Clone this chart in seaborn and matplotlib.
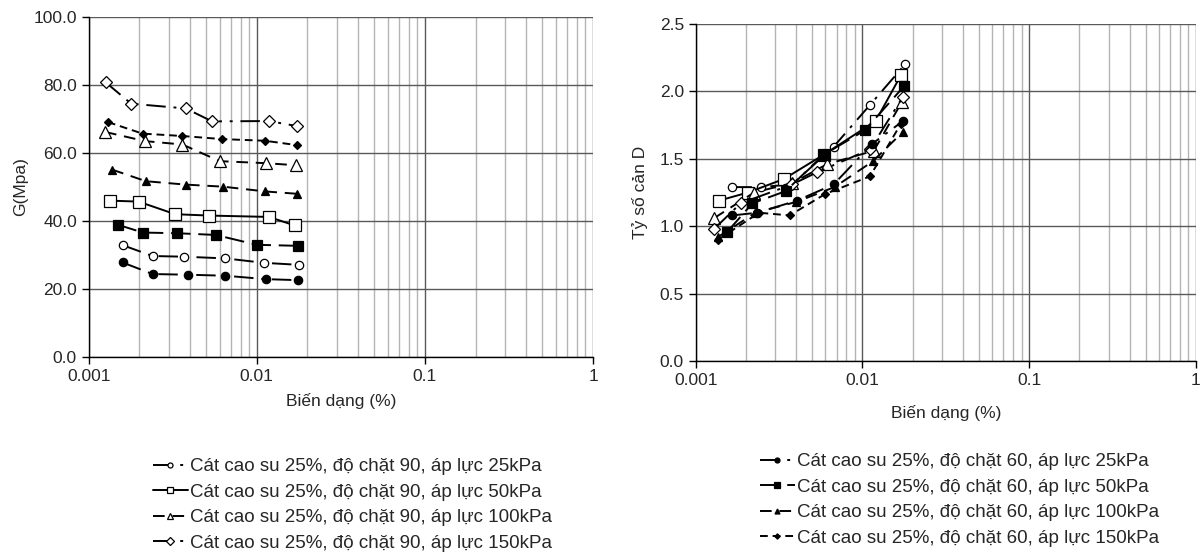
import numpy as np
import pandas as pd
import seaborn as sns
import matplotlib
matplotlib.use("Agg")
import matplotlib.pyplot as plt
from matplotlib.ticker import FixedLocator, FuncFormatter, NullFormatter, LogLocator

sns.set_style("white")
plt.rcParams['font.family'] = ['Liberation Sans', 'DejaVu Sans']

# ---------------- Data ----------------
series_labels = [
    "Cát cao su 25%, độ chặt 90, áp lực 25kPa",
    "Cát cao su 25%, độ chặt 90, áp lực 50kPa",
    "Cát cao su 25%, độ chặt 90, áp lực 100kPa",
    "Cát cao su 25%, độ chặt 90, áp lực 150kPa",
    "Cát cao su 25%, độ chặt 60, áp lực 25kPa",
    "Cát cao su 25%, độ chặt 60, áp lực 50kPa",
    "Cát cao su 25%, độ chặt 60, áp lực 100kPa",
    "Cát cao su 25%, độ chặt 60, áp lực 150kPa",
]

# Left chart: G (MPa) vs strain (%)
g_x_90_25 = [0.00159, 0.00240, 0.00369, 0.00651, 0.0110, 0.0179]
g_y_90_25 = [32.9, 29.7, 29.5, 29.0, 27.7, 27.1]
g_x_90_50 = [0.00133, 0.00198, 0.00327, 0.00518, 0.0118, 0.0168]
g_y_90_50 = [46.0, 45.7, 42.0, 41.6, 41.2, 38.7]
g_x_90_100 = [0.00125, 0.00216, 0.00361, 0.00602, 0.0114, 0.0170]
g_y_90_100 = [66.2, 63.5, 62.5, 57.6, 57.0, 56.4]
g_x_90_150 = [0.00126, 0.00179, 0.00378, 0.00542, 0.0118, 0.0174]
g_y_90_150 = [80.8, 74.5, 73.1, 69.3, 69.4, 67.9]
g_x_60_25 = [0.00159, 0.00240, 0.00390, 0.00651, 0.0113, 0.0176]
g_y_60_25 = [27.8, 24.4, 24.2, 23.9, 22.9, 22.6]
g_x_60_50 = [0.00149, 0.00210, 0.00337, 0.00570, 0.0100, 0.0175]
g_y_60_50 = [38.9, 36.6, 36.4, 35.9, 33.0, 32.7]
g_x_60_100 = [0.00138, 0.00219, 0.00378, 0.00630, 0.0112, 0.0174]
g_y_60_100 = [55.1, 51.7, 50.7, 50.1, 48.7, 48.0]
g_x_60_150 = [0.00130, 0.00209, 0.00361, 0.00617, 0.0112, 0.0174]
g_y_60_150 = [69.1, 65.7, 65.0, 64.1, 63.6, 62.3]

# Right chart: damping ratio D vs strain (%)
d_x_90_25 = [0.00166, 0.00245, 0.00379, 0.00672, 0.0111, 0.0180]
d_y_90_25 = [1.29, 1.29, 1.31, 1.59, 1.90, 2.20]
d_x_90_50 = [0.00138, 0.00206, 0.00338, 0.00585, 0.0120, 0.0170]
d_y_90_50 = [1.19, 1.25, 1.35, 1.53, 1.78, 2.12]
d_x_90_100 = [0.00129, 0.00224, 0.00379, 0.00613, 0.0117, 0.0172]
d_y_90_100 = [1.06, 1.25, 1.32, 1.46, 1.56, 1.92]
d_x_90_150 = [0.00129, 0.00186, 0.00379, 0.00534, 0.0111, 0.0175]
d_y_90_150 = [0.98, 1.17, 1.31, 1.40, 1.57, 1.96]
d_x_60_25 = [0.00166, 0.00234, 0.00405, 0.00672, 0.0114, 0.0175]
d_y_60_25 = [1.08, 1.10, 1.19, 1.31, 1.61, 1.78]
d_x_60_50 = [0.00155, 0.00219, 0.00346, 0.00585, 0.0103, 0.0178]
d_y_60_50 = [0.96, 1.17, 1.26, 1.53, 1.71, 2.04]
d_x_60_100 = [0.00136, 0.00228, 0.00400, 0.00680, 0.0115, 0.0175]
d_y_60_100 = [0.92, 1.10, 1.18, 1.29, 1.48, 1.70]
d_x_60_150 = [0.00136, 0.00240, 0.00366, 0.00600, 0.0111, 0.0170]
d_y_60_150 = [0.90, 1.10, 1.08, 1.24, 1.37, 1.76]

g_x = [g_x_90_25, g_x_90_50, g_x_90_100, g_x_90_150, g_x_60_25, g_x_60_50, g_x_60_100, g_x_60_150]
g_y = [g_y_90_25, g_y_90_50, g_y_90_100, g_y_90_150, g_y_60_25, g_y_60_50, g_y_60_100, g_y_60_150]
d_x = [d_x_90_25, d_x_90_50, d_x_90_100, d_x_90_150, d_x_60_25, d_x_60_50, d_x_60_100, d_x_60_150]
d_y = [d_y_90_25, d_y_90_50, d_y_90_100, d_y_90_150, d_y_60_25, d_y_60_50, d_y_60_100, d_y_60_150]

x_ticks = [0.001, 0.01, 0.1, 1]
x_tick_labels = ["0.001", "0.01", "0.1", "1"]
g_ticks = [0, 20, 40, 60, 80, 100]
d_ticks = [0.0, 0.5, 1.0, 1.5, 2.0, 2.5]

# ---------------- Styles ----------------
styles = [
    dict(marker='o', mfc='white', ms=6, ls=(0, (10, 4, 1.5, 4))),
    dict(marker='s', mfc='white', ms=8, ls='-'),
    dict(marker='^', mfc='white', ms=8, ls=(0, (6, 4))),
    dict(marker='D', mfc='white', ms=6.5, ls=(0, (10, 4, 1.5, 4, 1.5, 4))),
    dict(marker='o', mfc='black', ms=6, ls=(0, (10, 4, 1.5, 4))),
    dict(marker='s', mfc='black', ms=7, ls=(0, (10, 4))),
    dict(marker='^', mfc='black', ms=6, ls=(0, (6, 4))),
    dict(marker='D', mfc='black', ms=4.5, ls=(0, (4, 2.5))),
]

fig = plt.figure(figsize=(12.04, 5.55), dpi=100)
axL = fig.add_axes([88.7/1204, 1-357/555, (593-88.7)/1204, (357-17)/555])
axR = fig.add_axes([695.7/1204, 1-361/555, (1196-695.7)/1204, (361-24)/555])

def style_axis(ax, yticks, fmt, ylabel):
    ax.set_xscale('log')
    ax.set_xlim(0.001, 1)
    ax.set_ylim(yticks[0], yticks[-1])
    ax.xaxis.set_major_locator(FixedLocator(x_ticks))
    ax.set_xticklabels(x_tick_labels)
    ax.xaxis.set_minor_locator(LogLocator(base=10, subs=np.arange(2, 10)))
    ax.xaxis.set_minor_formatter(NullFormatter())
    ax.set_yticks(yticks)
    ax.yaxis.set_major_formatter(FuncFormatter(lambda v, p: fmt.format(v)))
    ax.grid(True, which='major', axis='both', color='#5a5a5a', lw=1.0, zorder=0)
    ax.grid(True, which='minor', axis='x', color='#b4b4b4', lw=1.0, zorder=0)
    for s in ['top', 'right']:
        ax.spines[s].set_visible(False)
    for s in ['left', 'bottom']:
        ax.spines[s].set_color('black')
        ax.spines[s].set_linewidth(1.0)
    ax.tick_params(axis='both', which='major', direction='out', length=5, width=1,
                   color='black', labelsize=12.5, left=True, bottom=True)
    ax.tick_params(axis='x', which='minor', length=0)
    ax.set_xlabel("Biến dạng (%)", fontsize=12.5)
    ax.set_ylabel(ylabel, fontsize=12.5)
    ax.set_axisbelow(True)

def draw(ax, xs, ys):
    handles = []
    for i in range(8):
        st = styles[i]
        df = pd.DataFrame({'x': xs[i], 'y': ys[i]})
        sns.lineplot(data=df, x='x', y='y', ax=ax, color='black', lw=1.4,
                     linestyle=st['ls'], marker=st['marker'], markersize=st['ms'],
                     markerfacecolor=st['mfc'], markeredgecolor='black',
                     markeredgewidth=0.9, sort=False, estimator=None, zorder=3)
        handles.append(ax.lines[-1])
    return handles

hL = draw(axL, g_x, g_y)
hR = draw(axR, d_x, d_y)
style_axis(axL, g_ticks, "{:.1f}", "G(Mpa)")
style_axis(axR, d_ticks, "{:.1f}", "Tỷ số cản D")
axL.xaxis.set_label_coords(0.5, -0.105)
axR.xaxis.set_label_coords(0.5, -0.13)
axL.yaxis.set_label_coords(-0.12, 0.5)
axR.yaxis.set_label_coords(-0.095, 0.5)

leg_kw = dict(loc='upper left', frameon=False, fontsize=13.5, handlelength=1.85,
              handletextpad=0.1, labelspacing=0.45, borderaxespad=0, borderpad=0,
              markerscale=0.6)
fig.legend(hL[:4], series_labels[:4], bbox_to_anchor=(153/1204, 1-458/555), **leg_kw)
fig.legend(hR[4:], series_labels[4:], bbox_to_anchor=(760/1204, 1-453/555), **leg_kw)

fig.savefig("out.png", dpi=100)
